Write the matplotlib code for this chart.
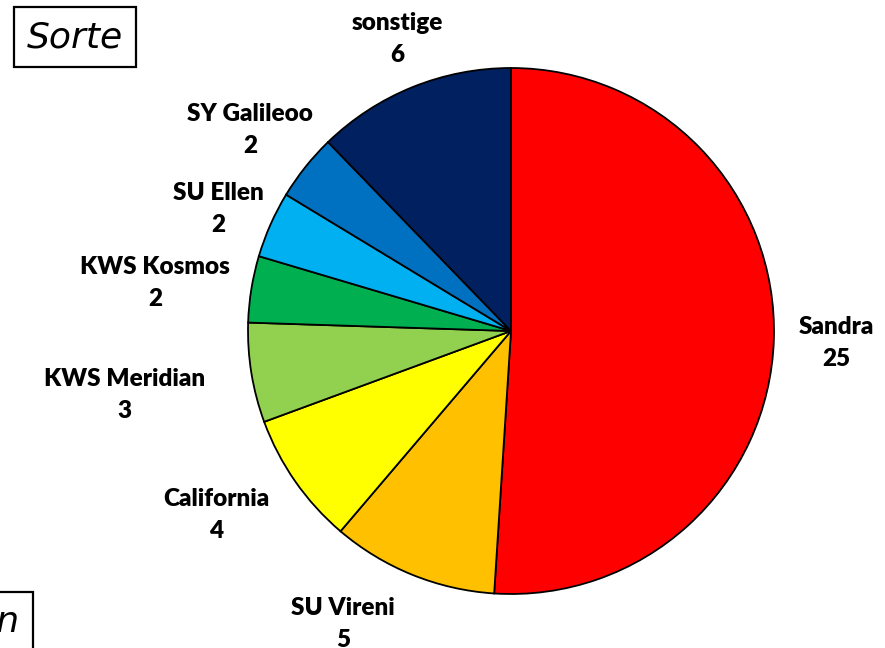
import matplotlib
matplotlib.use("Agg")
import matplotlib.pyplot as plt

categories = ["Sandra", "SU Vireni", "California", "KWS Meridian",
              "KWS Kosmos", "SU Ellen", "SY Galileoo", "sonstige"]
values = [25, 5, 4, 3, 2, 2, 2, 6]
colors = ["#FF0000", "#FFC000", "#FFFF00", "#92D050",
          "#00B050", "#00B0F0", "#0070C0", "#002060"]
# label block centres, in units of the pie radius
label_pos = [(1.236, -0.046), (-0.639, -1.114), (-1.122, -0.700),
             (-1.468, -0.243), (-1.354, 0.183), (-1.114, 0.464),
             (-0.992, 0.764), (-0.433, 1.110)]

W, H = 885, 648
fig = plt.figure(figsize=(W / 100, H / 100), dpi=100)
cx, cy, r = 511, 331, 263
ax = fig.add_axes([(cx - r) / W, (H - cy - r) / H, 2 * r / W, 2 * r / H])

wedges, _ = ax.pie(values, colors=colors, startangle=90, counterclock=False,
                   radius=1, wedgeprops=dict(edgecolor="black", linewidth=1.3))
ax.set_xlim(-1, 1)
ax.set_ylim(-1, 1)
ax.set_aspect("auto")
ax.axis("off")

for name, v, (lx, ly) in zip(categories, values, label_pos):
    ax.text(lx, ly, f"{name}\n{v}",
            ha="center", va="center", fontsize=17.5, fontweight="heavy",
            family="Lato", linespacing=1.58, clip_on=False)

box = dict(boxstyle="square,pad=0.36", facecolor="white",
           edgecolor="black", linewidth=1.6)
fig.text(27 / W, 1 - 37 / H, "Sorte", fontsize=26, style="italic",
         family="DejaVu Sans", ha="left", va="center", bbox=box)

fig.text(20 / W, 1 - 622 / H, "Sorten", fontsize=26, style="italic",
         family="DejaVu Sans", ha="right", va="center", bbox=box)

fig.savefig("out.png", dpi=100)
